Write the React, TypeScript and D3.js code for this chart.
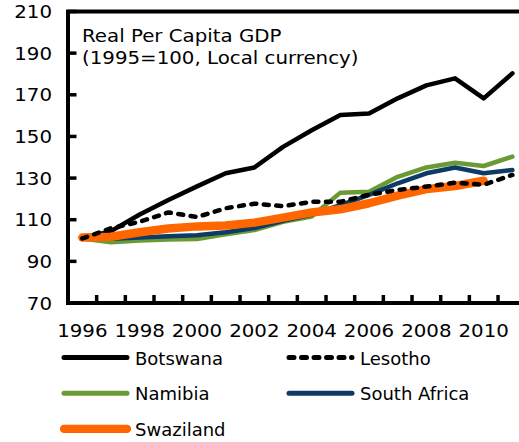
import React from "react";
import * as d3 from "d3";

const years = ["1996","1997","1998","1999","2000","2001","2002","2003","2004","2005","2006","2007","2008","2009","2010","2011"];
const yTicks = [70, 90, 110, 130, 150, 170, 190, 210];
const xTickLabels = ["1996","1998","2000","2002","2004","2006","2008","2010"];

const botswana = [101, 104.5, 112.5, 119.5, 126, 132.3, 135.1, 145, 153, 160.3, 161, 168.3, 174.5, 177.9, 168.3, 180.3];
const lesotho = [101, 105.9, 109, 113.5, 111.3, 115.5, 117.7, 116.5, 118.6, 118.6, 122, 124.3, 125.9, 127.8, 126.8, 131.5];
const namibia = [101, 99.2, 100, 100.5, 100.7, 103, 105, 109, 111.5, 123, 123.4, 130.6, 135.1, 137.4, 135.8, 140.3];
const southAfrica = [101, 100.8, 101.5, 102, 102.5, 104, 106, 109.5, 112.5, 117, 121.9, 127.5, 132.3, 135.1, 132.3, 133.9];
const swaziland: (number | null)[] = [101.4, 101.8, 104, 105.8, 106.8, 107.2, 108.6, 111, 113.5, 115, 117.9, 121.6, 124.7, 126.2, 128.7, null];

const titleLines = ["Real Per Capita GDP", "(1995=100, Local currency)"];

type Series = { name: string; values: (number | null)[]; color: string; width: number; dash?: string };
const series: Series[] = [
  { name: "Botswana", values: botswana, color: "#000000", width: 4.5 },
  { name: "Namibia", values: namibia, color: "#6A9A34", width: 4.5 },
  { name: "South Africa", values: southAfrica, color: "#0D3B66", width: 4.5 },
  { name: "Swaziland", values: swaziland, color: "#FF6600", width: 8.5 },
  { name: "Lesotho", values: lesotho, color: "#000000", width: 4.5, dash: "5 7.5" },
];
const legendOrder = ["Botswana", "Lesotho", "Namibia", "South Africa", "Swaziland"];

const W = 519, H = 442;
const left = 68, right = 526.7, top = 11.5, bottom = 303;
const FONT = "'DejaVu Sans', Verdana, sans-serif";

export default function App() {
  const x = d3.scalePoint<string>().domain(years).range([left, right]).padding(0.5);
  const step = x.step();
  const y = d3.scaleLinear().domain([70, 210]).range([bottom, top]);
  const line = d3.line<number | null>()
    .defined((d) => d != null)
    .x((_, i) => x(years[i]) as number)
    .y((d) => y(d as number));

  const boundaries = d3.range(1, years.length).map((i) => left + i * step);

  return (
    <svg width={W} height={H} style={{ position: "absolute", left: 0, top: 0, background: "#fff" }}>
      {/* frame */}
      <path d={`M${right + 10},${top} H${left} V${bottom} H${right + 10}`} fill="none" stroke="#000" strokeWidth={4} />
      {/* y ticks */}
      {yTicks.map((t) => (
        <line key={"yt" + t} x1={left} x2={left + 8.5} y1={y(t)} y2={y(t)} stroke="#000" strokeWidth={3.5} />
      ))}
      {yTicks.map((t) => (
        <text key={"yl" + t} transform={`translate(52,${y(t) + 6.5}) scale(1.1,1)`} textAnchor="end"
          fontFamily={FONT} fontSize={18} fill="#000">{t}</text>
      ))}
      {/* x ticks */}
      {boundaries.map((bx, i) => (
        <line key={"xt" + i} x1={bx} x2={bx} y1={bottom} y2={bottom - 8} stroke="#000" strokeWidth={3.5} />
      ))}
      {xTickLabels.map((lab) => (
        <text key={"xl" + lab} transform={`translate(${x(lab)},336.7) scale(1.1,1)`} textAnchor="middle"
          fontFamily={FONT} fontSize={18} fill="#000">{lab}</text>
      ))}
      {/* title */}
      {titleLines.map((t, i) => (
        <text key={"tt" + i} transform={`translate(82,${42 + i * 22}) scale(1.1,1)`}
          fontFamily={FONT} fontSize={18} fill="#000">{t}</text>
      ))}
      {/* series */}
      {series.map((s) => (
        <path key={s.name} d={line(s.values) || ""} fill="none" stroke={s.color} strokeWidth={s.width}
          strokeLinejoin="round" strokeLinecap="round" strokeDasharray={s.dash} />
      ))}
      {/* legend */}
      {legendOrder.map((name, i) => {
        const s = series.find((q) => q.name === name)!;
        const col = i % 2, row = Math.floor(i / 2);
        const lx = col === 0 ? 64 : 289;
        const ly = 357.5 + row * 35.7;
        return (
          <g key={"lg" + name}>
            <line x1={lx} x2={lx + 63} y1={ly} y2={ly} stroke={s.color} strokeWidth={s.name === "Swaziland" ? 8.3 : 5}
              strokeLinecap="round" strokeDasharray={s.dash} />
            <text x={lx + 71} y={ly + 7} fontFamily={FONT} fontSize={18} fill="#000">{name}</text>
          </g>
        );
      })}
    </svg>
  );
}
